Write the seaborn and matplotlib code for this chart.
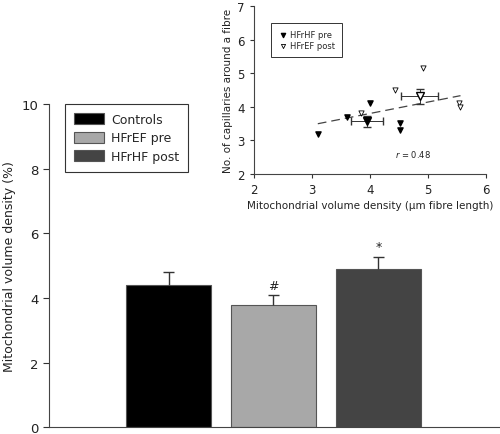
import numpy as np
import matplotlib
matplotlib.use("Agg")
import matplotlib.pyplot as plt
import seaborn as sns

# main bar chart
groups = ["Controls", "HFrEF pre", "HFrHF post"]
density = [4.4, 3.78, 4.89]
density_err = [0.4, 0.3, 0.39]
bar_colors = ["#000000", "#a8a8a8", "#444444"]
marks = ["", "#", "*"]

# inset scatter: capillaries vs mitochondrial density
pre_x = [3.10, 3.60, 4.00, 4.51, 4.52]
pre_y = [3.19, 3.69, 4.10, 3.51, 3.31]
post_x = [3.84, 4.43, 4.92, 5.53, 5.56]
post_y = [3.81, 4.50, 5.15, 4.11, 3.98]
pre_xerr, pre_yerr = 0.27, 0.15
post_xerr, post_yerr = 0.32, 0.23

sns.set_style("ticks")
plt.rcParams["font.family"] = ["DejaVu Sans"]

fig = plt.figure(figsize=(5, 4.35), dpi=100)
ax = fig.add_axes([0.098, 0.0155, 0.902, 0.743])

sns.barplot(x=groups, y=density, hue=groups, palette=bar_colors, width=0.81,
            edgecolor="#555555", linewidth=0.8, legend=False, ax=ax)
# upper half error bars only
xpos = np.arange(len(groups))
tops = np.array(density) + np.array(density_err)
ax.vlines(xpos, density, tops, color="#333333", linewidth=1)
ax.hlines(tops, xpos - 0.05, xpos + 0.05, color="#333333", linewidth=1)
for i, m in enumerate(marks):
    if m:
        ax.text(i, tops[i] + 0.12, m, ha="center", va="bottom",
                fontsize=9, color="#222222")

ax.set_xlim(-1.14, 3.16)
ax.set_ylim(0, 10)
ax.set_yticks([0, 2, 4, 6, 8, 10])
ax.set_xticks([])
ax.set_xlabel("")
ax.set_ylabel("Mitochondrial volume density (%)", fontsize=9, color="#222222")
ax.tick_params(axis="y", labelsize=9.5, length=4, width=0.8, colors="#333333",
               labelcolor="#222222")
for s in ["top", "right"]:
    ax.spines[s].set_visible(False)
for s in ["left", "bottom"]:
    ax.spines[s].set_linewidth(0.8)
    ax.spines[s].set_color("#444444")

handles = [plt.Rectangle((0, 0), 1, 1, facecolor=c, edgecolor="#555555", linewidth=0.8)
           for c in bar_colors]
leg = ax.legend(handles, groups, loc="upper left", bbox_to_anchor=(0.035, 1.0),
                borderaxespad=0, fontsize=9, handlelength=2.4, handleheight=1.0,
                labelspacing=0.45, handletextpad=0.6, borderpad=0.7,
                fancybox=False, framealpha=1)
leg.get_frame().set_edgecolor("#333333")
leg.get_frame().set_linewidth(0.8)

# inset
ins = fig.add_axes([0.508, 0.598, 0.464, 0.386])
ins.scatter(pre_x, pre_y, marker="v", s=14, color="black", label="HFrHF pre", zorder=3)
ins.scatter(post_x, post_y, marker="v", s=14, facecolor="white", edgecolor="black",
            linewidth=0.6, label="HFrEF post", zorder=3)
sns.regplot(x=pre_x + post_x, y=pre_y + post_y, scatter=False, ci=None, ax=ins,
            line_kws=dict(color="#444444", linestyle=(0, (7, 4)), linewidth=0.9))
ins.errorbar(np.mean(pre_x), np.mean(pre_y), xerr=pre_xerr, yerr=pre_yerr, fmt="v",
             color="black", ms=6, ecolor="#333333", elinewidth=0.7, capsize=3, zorder=4)
ins.errorbar(np.mean(post_x), np.mean(post_y), xerr=post_xerr, yerr=post_yerr, fmt="v",
             mfc="white", mec="black", ms=6, ecolor="#333333", elinewidth=0.7,
             capsize=3, zorder=4)
ins.text(4.74, 2.6, r"$r$ = 0.48", fontsize=6, ha="center", va="center", color="#222222")

ins.set_xlim(2, 6)
ins.set_ylim(2, 7)
ins.set_xticks([2, 3, 4, 5, 6])
ins.set_yticks([2, 3, 4, 5, 6, 7])
ins.set_xlabel("Mitochondrial volume density (\u03bcm fibre length)", fontsize=7.5,
               color="#222222", labelpad=3)
ins.set_ylabel("No. of capillaries around a fibre", fontsize=7.5, color="#222222",
               labelpad=3)
ins.tick_params(labelsize=8.5, length=3, width=0.8, colors="#333333", labelcolor="#222222")
for s in ["top", "right"]:
    ins.spines[s].set_visible(False)
for s in ["left", "bottom"]:
    ins.spines[s].set_linewidth(0.8)
    ins.spines[s].set_color("#444444")
ileg = ins.legend(loc="upper left", bbox_to_anchor=(0.075, 0.9), borderaxespad=0,
                  fontsize=6, handletextpad=0.3, borderpad=0.9, labelspacing=0.2,
                  fancybox=False, framealpha=1, handlelength=1, markerscale=0.8)
ileg.get_frame().set_edgecolor("#333333")
ileg.get_frame().set_linewidth(0.7)

fig.savefig("out.png", dpi=100)
